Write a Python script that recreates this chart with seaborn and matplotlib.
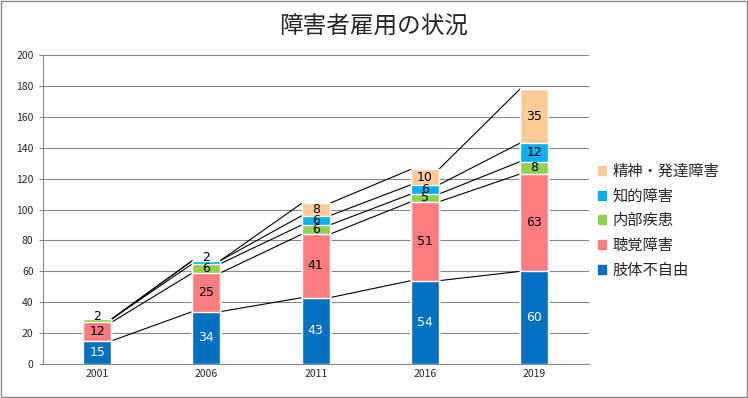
import numpy as np
import pandas as pd
import seaborn as sns
import matplotlib.pyplot as plt
from matplotlib.patches import Patch, Rectangle

years = ['2001', '2006', '2011', '2016', '2019']
series_names = ['肢体不自由', '聴覚障害', '内部疾患', '知的障害', '精神・発達障害']
shitai = [15, 34, 43, 54, 60]
choukaku = [12, 25, 41, 51, 63]
naibu = [2, 6, 6, 5, 8]
chiteki = [0, 2, 6, 6, 12]
seishin = [0, 0, 8, 10, 35]
colors = ['#0070C0', '#FF7C80', '#92D050', '#00B0F0', '#FFCC99']

sns.set_style('white')
plt.rcParams['font.family'] = ['Noto Sans CJK JP', 'DejaVu Sans']

values = np.array([shitai, choukaku, naibu, chiteki, seishin], dtype=float)
tops = values.cumsum(axis=0)
bottoms = tops - values

fig = plt.figure(figsize=(7.48, 3.98), dpi=100)
ax = fig.add_axes([0.057, 0.085, 0.73, 0.777])

w = 0.256
# draw cumulative totals from top series down so lower ones overlay
for k in range(len(series_names) - 1, -1, -1):
    df = pd.DataFrame({'year': years, 'top': tops[k]})
    sns.barplot(data=df, x='year', y='top', color=colors[k], width=w,
                saturation=1, ax=ax, zorder=3)

# series lines between bars
for k in range(len(series_names)):
    for i in range(len(years) - 1):
        ax.plot([i + w / 2, i + 1 - w / 2], [tops[k][i], tops[k][i + 1]],
                color='black', lw=0.8, zorder=2)

# data labels
for k in range(len(series_names)):
    for i in range(len(years)):
        v = values[k][i]
        if v == 0:
            continue
        y = bottoms[k][i] + v / 2
        if v <= 2:
            y = tops[k][i] + 2
        ax.text(i, y, f'{int(v)}', ha='center', va='center', fontsize=9,
                color='white' if k == 0 else 'black', zorder=4,
                family=['DejaVu Sans'])

ax.set_ylim(0, 200)
ax.set_xlim(-0.5, 4.5)
ax.set_yticks(range(0, 201, 20))
ax.yaxis.grid(True, color='#888888', lw=0.8, zorder=0)
ax.set_axisbelow(True)
ax.set_xlabel('')
ax.set_ylabel('')
ax.tick_params(axis='y', labelsize=7.5, length=3, color='#888888', left=True)
ax.tick_params(axis='x', labelsize=7.5, length=0)
for s in ['top', 'right']:
    ax.spines[s].set_visible(False)
for s in ['left', 'bottom']:
    ax.spines[s].set_color('#888888')

fig.suptitle('障害者雇用の状況', fontsize=17, x=0.5, y=0.96)

handles = [Patch(color=colors[k], label=series_names[k])
           for k in range(len(series_names) - 1, -1, -1)]
fig.legend(handles=handles, loc='upper left', bbox_to_anchor=(0.781, 0.625),
           frameon=False, fontsize=11, handlelength=0.55, handleheight=0.55,
           handletextpad=0.4, labelspacing=0.5)

fig.patches.append(Rectangle((0.001, 0.002), 0.997, 0.995, transform=fig.transFigure,
                             fill=False, edgecolor='#888888', lw=1))

fig.savefig('out.png', dpi=100)
